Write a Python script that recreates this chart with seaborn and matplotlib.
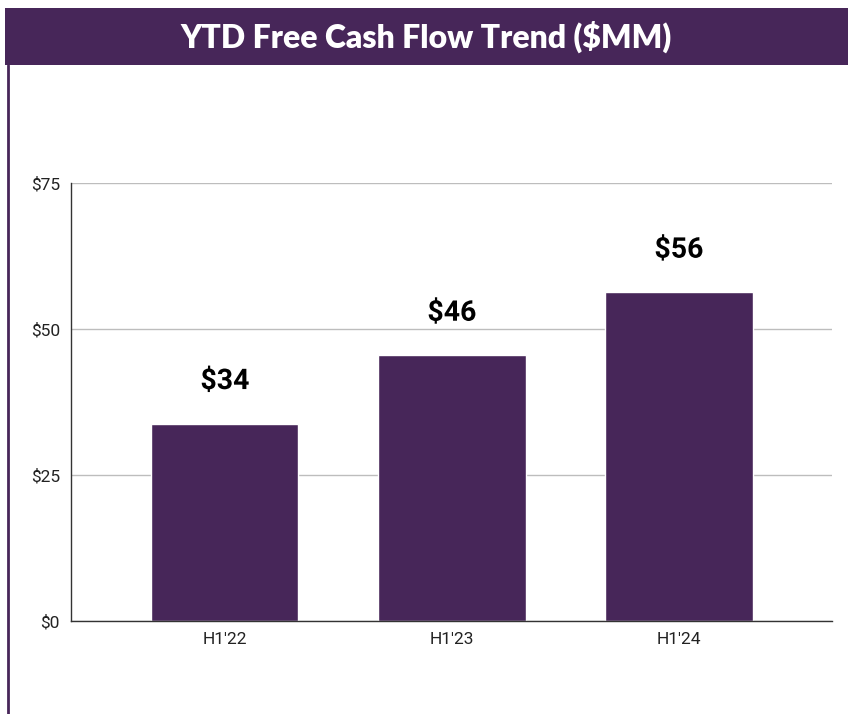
import matplotlib
matplotlib.use("Agg")
import matplotlib.pyplot as plt
import matplotlib.patheffects as pe
import seaborn as sns
import pandas as pd

# --- data ---
periods = ["H1'22", "H1'23", "H1'24"]
fcf = [33.8, 45.5, 56.3]
value_labels = ["$34", "$46", "$56"]
y_ticks = [0, 25, 50, 75]
y_tick_labels = ["$0", "$25", "$50", "$75"]

purple = "#472659"

sns.set_theme(style="white")
plt.rcParams['font.family'] = ['Roboto', 'DejaVu Sans']

df = pd.DataFrame({"period": periods, "fcf": fcf})

fig = plt.figure(figsize=(8.48, 7.14), dpi=100)

# title banner
banner = fig.add_axes([5 / 848, 1 - 65 / 714, 843 / 848, 57 / 714])
banner.set_facecolor(purple)
banner.set_xticks([])
banner.set_yticks([])
for s in banner.spines.values():
    s.set_visible(False)
banner.text(0.5, 0.5, "YTD Free Cash Flow Trend ($MM)", color="white",
            fontsize=23, fontweight="heavy", family=['Lato', 'DejaVu Sans'],
            ha="center", va="center", transform=banner.transAxes)

# left border line
fig.add_artist(plt.Line2D([8 / 848, 8 / 848], [0, 1 - 65 / 714], color=purple,
                          lw=2, transform=fig.transFigure))

ax = fig.add_axes([71 / 848, 1 - 621 / 714, 761 / 848, 438 / 714])
sns.barplot(data=df, x="period", y="fcf", color=purple, saturation=1,
            width=0.648, ax=ax)

ax.set_xlim(-0.678, 2.674)
ax.set_ylim(0, 75)
ax.set_yticks(y_ticks)
ax.set_yticklabels(y_tick_labels)
ax.yaxis.grid(True, color="#bdbdbd", lw=1)
ax.set_axisbelow(True)
ax.set_xlabel("")
ax.set_ylabel("")
ax.tick_params(axis="both", labelsize=12.5, colors="#222222", length=0, pad=8)
for side in ["top", "right"]:
    ax.spines[side].set_visible(False)
for side in ["left", "bottom"]:
    ax.spines[side].set_color("#333333")
    ax.spines[side].set_linewidth(1)

for i, (v, lab) in enumerate(zip(fcf, value_labels)):
    ax.text(i, v + 7.2, lab, ha="center", va="center", fontsize=20.5,
            fontweight="bold", color="black",
            path_effects=[pe.withStroke(linewidth=4, foreground="white")])

fig.savefig("out.png", dpi=100, facecolor="white")
